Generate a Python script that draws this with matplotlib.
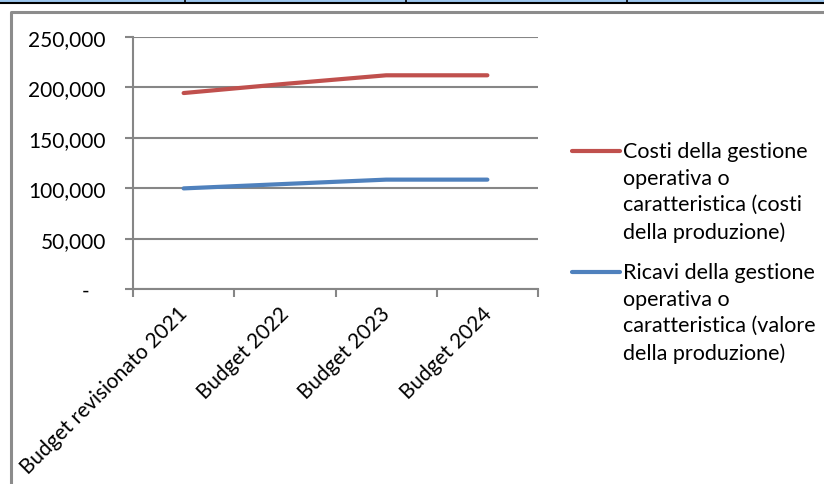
import matplotlib.pyplot as plt
from matplotlib.lines import Line2D
from matplotlib.patches import Rectangle
from matplotlib.ticker import FuncFormatter
from matplotlib.transforms import ScaledTranslation

plt.rcParams['font.family'] = ['Lato', 'DejaVu Sans']

categories = ['Budget revisionato 2021', 'Budget 2022', 'Budget 2023', 'Budget 2024']
costi = [194400, 203500, 212000, 212000]
ricavi = [99800, 104200, 108500, 108500]
labels = ['Costi della gestione\noperativa o\ncaratteristica (costi\ndella produzione)',
          'Ricavi della gestione\noperativa o\ncaratteristica (valore\ndella produzione)']
colors = ['#C0504D', '#4F81BD']

W, H = 824, 485
fig = plt.figure(figsize=(W / 100, H / 100), dpi=100)

def px(x, y):
    return x / W, 1 - y / H

# spreadsheet strip on top
fig.add_artist(Rectangle(px(0, 3.5), 1, 3.5 / H, transform=fig.transFigure,
                         facecolor='#9CC6EE', edgecolor='none'))
fig.add_artist(Line2D([0, 1], [1 - 4 / H] * 2, transform=fig.transFigure, color='black', lw=1.5))
for xv in [185, 406, 627]:
    fig.add_artist(Line2D([xv / W] * 2, [1, 1 - 4 / H], transform=fig.transFigure, color='black', lw=1.2))

# chart frame
fig.add_artist(Line2D([11 / W, 11 / W, 1.01], [-0.01, 1 - 13 / H, 1 - 13 / H],
                      transform=fig.transFigure, color='#8C8C8C', lw=2.2))

l, t = px(133, 38)
r, b = px(538, 290)
ax = fig.add_axes([l, b, r - l, t - b])

x = range(len(categories))
ax.plot(x, costi, color=colors[0], lw=3.0, solid_capstyle='round')
ax.plot(x, ricavi, color=colors[1], lw=3.0, solid_capstyle='round')

ax.set_xlim(-0.5, len(categories) - 0.5)
ax.set_ylim(0, 250000)
ax.set_yticks(range(0, 250001, 50000))
ax.yaxis.set_major_formatter(FuncFormatter(lambda v, p: '-   ' if v == 0 else f'{int(v):,}'))
ax.grid(axis='y', color='#868686', lw=1.5)
ax.set_axisbelow(True)

ax.set_xticks(list(x))
ax.set_xticklabels(categories, rotation=45, ha='right', va='top', rotation_mode='anchor', fontsize=15)
ax.set_xticks([i - 0.5 for i in range(len(categories) + 1)], minor=True)
ax.tick_params(axis='x', which='major', length=0, pad=13.5)
ax.tick_params(axis='x', which='minor', length=5.5, width=1.5, color='#868686')
ax.tick_params(axis='y', length=5.5, width=1.5, color='#868686', pad=14, labelsize=15)

shift = ScaledTranslation(-0.06, 0.05, fig.dpi_scale_trans)
for lab in ax.get_xticklabels():
    lab.set_transform(lab.get_transform() + shift)

for s in ['top', 'right']:
    ax.spines[s].set_visible(False)
for s in ['left', 'bottom']:
    ax.spines[s].set_color('#868686')
    ax.spines[s].set_linewidth(1.5)

# legend
for lab, col, yy in zip(labels, colors, [152, 273]):
    fig.add_artist(Line2D([572 / W, 620 / W], [1 - yy / H] * 2, transform=fig.transFigure,
                          color=col, lw=3.0, solid_capstyle='round'))
    fig.text(623 / W, 1 - (yy - 10) / H, lab, fontsize=15.5, va='top', ha='left', linespacing=1.41)

fig.savefig('out.png', dpi=100)
